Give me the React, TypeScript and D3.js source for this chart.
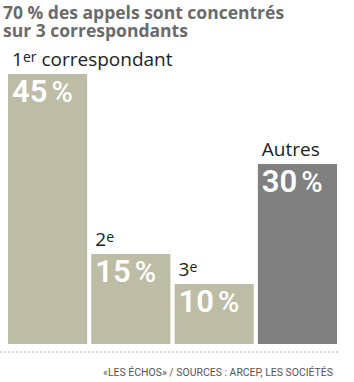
import React from 'react';
import * as d3 from 'd3';

const width = 354;
const height = 382;
const margin = {top: 74, right: 17, bottom: 38, left: 8};
const beige = '#bdbca5';
const grey = '#808080';

const categories = ['1', '2', '3', 'autres'];
const labels = ['1', '2', '3', 'Autres'];
const sups = ['er', 'e', 'e', ''];
const rest = [' correspondant', '', '', ''];
const values = [45, 15, 10, 30];
const colors = [beige, beige, beige, grey];

const titleLines = ['70 % des appels sont concentrés', 'sur 3 correspondants'];
const source = '«LES ÉCHOS» / SOURCES : ARCEP, LES SOCIÉTÉS';

const font = '"Open Sans", Roboto, sans-serif';
const numFont = 'Roboto, "Open Sans", sans-serif';

const App = () => {
  const x = d3.scaleBand().domain(categories)
    .range([margin.left, width - margin.right]).paddingInner(0.05);
  const y = d3.scaleLinear().domain([0, 45])
    .range([height - margin.bottom, margin.top]);

  return (
    <svg width={width} height={height} style={{position: 'absolute', left: 0, top: 0, fontFamily: font}}>
      <rect width={width} height={height} fill='#fff' />
      {titleLines.map((t, i) =>
        <text key={i} x={3} y={19 + i * 18} fontSize={17.5} fontWeight='bold' fill='#6b6b6b'>{t}</text>)}
      {categories.map((c, i) => {
        const bx = x(c) as number;
        const top = y(values[i]);
        return (
          <g key={c}>
            <rect x={bx} y={top} width={x.bandwidth()} height={y(0) - top} fill={colors[i]} />
            <text x={bx + 4} y={top - 8} fontSize={19} fill='#222'>
              {labels[i]}
              {sups[i] && <tspan fontSize={14} dy={-4}>{sups[i]}</tspan>}
              {rest[i] && <tspan dy={4}>{rest[i]}</tspan>}
            </text>
            <text x={bx + 4} y={top + 28} fontSize={31} fontWeight={600} fill='#fff' fontFamily={numFont}>
              {values[i]}<tspan fontSize={29} fontWeight={500} dx={4}>%</tspan>
            </text>
          </g>
        );
      })}
      <line x1={0} x2={340} y1={352} y2={352} stroke='#aaa' strokeDasharray='2,2' />
      <text x={333} y={376} fontSize={10} fill='#555' textAnchor='end' fontFamily={numFont}
        textLength={230} lengthAdjust='spacingAndGlyphs'>{source}</text>
    </svg>
  );
};

export default App;
